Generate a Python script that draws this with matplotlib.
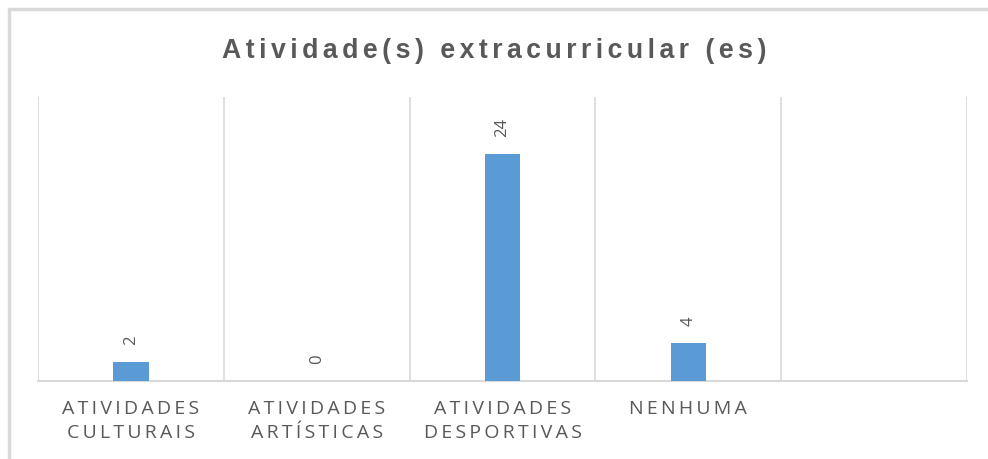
import matplotlib.pyplot as plt
import numpy as np
from matplotlib.patches import Rectangle

categories = ["ATIVIDADES\nCULTURAIS", "ATIVIDADES\nARTÍSTICAS", "ATIVIDADES\nDESPORTIVAS", "NENHUMA", ""]
values = [2, 0, 24, 4, None]
title = "Atividade(s) extracurricular (es)"

GRAY = "#595959"
GRID = "#d9d9d9"
BLUE = "#5b9bd5"


def spaced(s, sep="\u2009"):
    # fake Excel-like letter spacing
    return "\n".join(sep.join(line) for line in s.split("\n"))


plt.rcParams['font.family'] = ['Liberation Sans', 'DejaVu Sans']

fig = plt.figure(figsize=(9.88, 4.59), dpi=100)
ax = fig.add_axes([38 / 988, 78 / 459, 929 / 988, 284 / 459])

x = np.arange(len(categories))
vals = [v if v is not None else 0 for v in values]
ax.bar(x[:4], vals[:4], width=0.19, color=BLUE, zorder=3)

for xi, v in zip(x, values):
    if v is None:
        continue
    ax.annotate(str(v), (xi, v), xytext=(0, 12), textcoords="offset points",
                rotation=90, ha="center", va="bottom", color=GRAY, fontsize=12,
                family=['Open Sans', 'DejaVu Sans'])

ax.set_xlim(-0.5, len(categories) - 0.5)
ax.set_ylim(0, 30)
ax.set_yticks([])
ax.set_xticks(x)
ax.set_xticklabels([spaced(c, "\u2009") for c in categories], color=GRAY, fontsize=14,
                   family=['Open Sans', 'DejaVu Sans'], linespacing=1.38)
ax.tick_params(axis="x", length=0, pad=14)

for b in np.arange(-0.5, len(categories), 1.0):
    ax.axvline(b, color=GRID, lw=1.2, zorder=1)
for s in ["top", "left", "right"]:
    ax.spines[s].set_visible(False)
ax.spines["bottom"].set_color(GRID)
ax.spines["bottom"].set_linewidth(1.5)

fig.text(0.5, 1 - 51 / 459, spaced(title, "\u200a\u200a"), ha="center", va="center",
         fontsize=19.2, fontweight="bold", color=GRAY)

fig.patches.append(Rectangle((9 / 988, -0.1), 1.2, 1.1 - 9 / 459, transform=fig.transFigure,
                             fill=False, edgecolor=GRID, lw=2.5))

fig.savefig("out.png", dpi=100)
